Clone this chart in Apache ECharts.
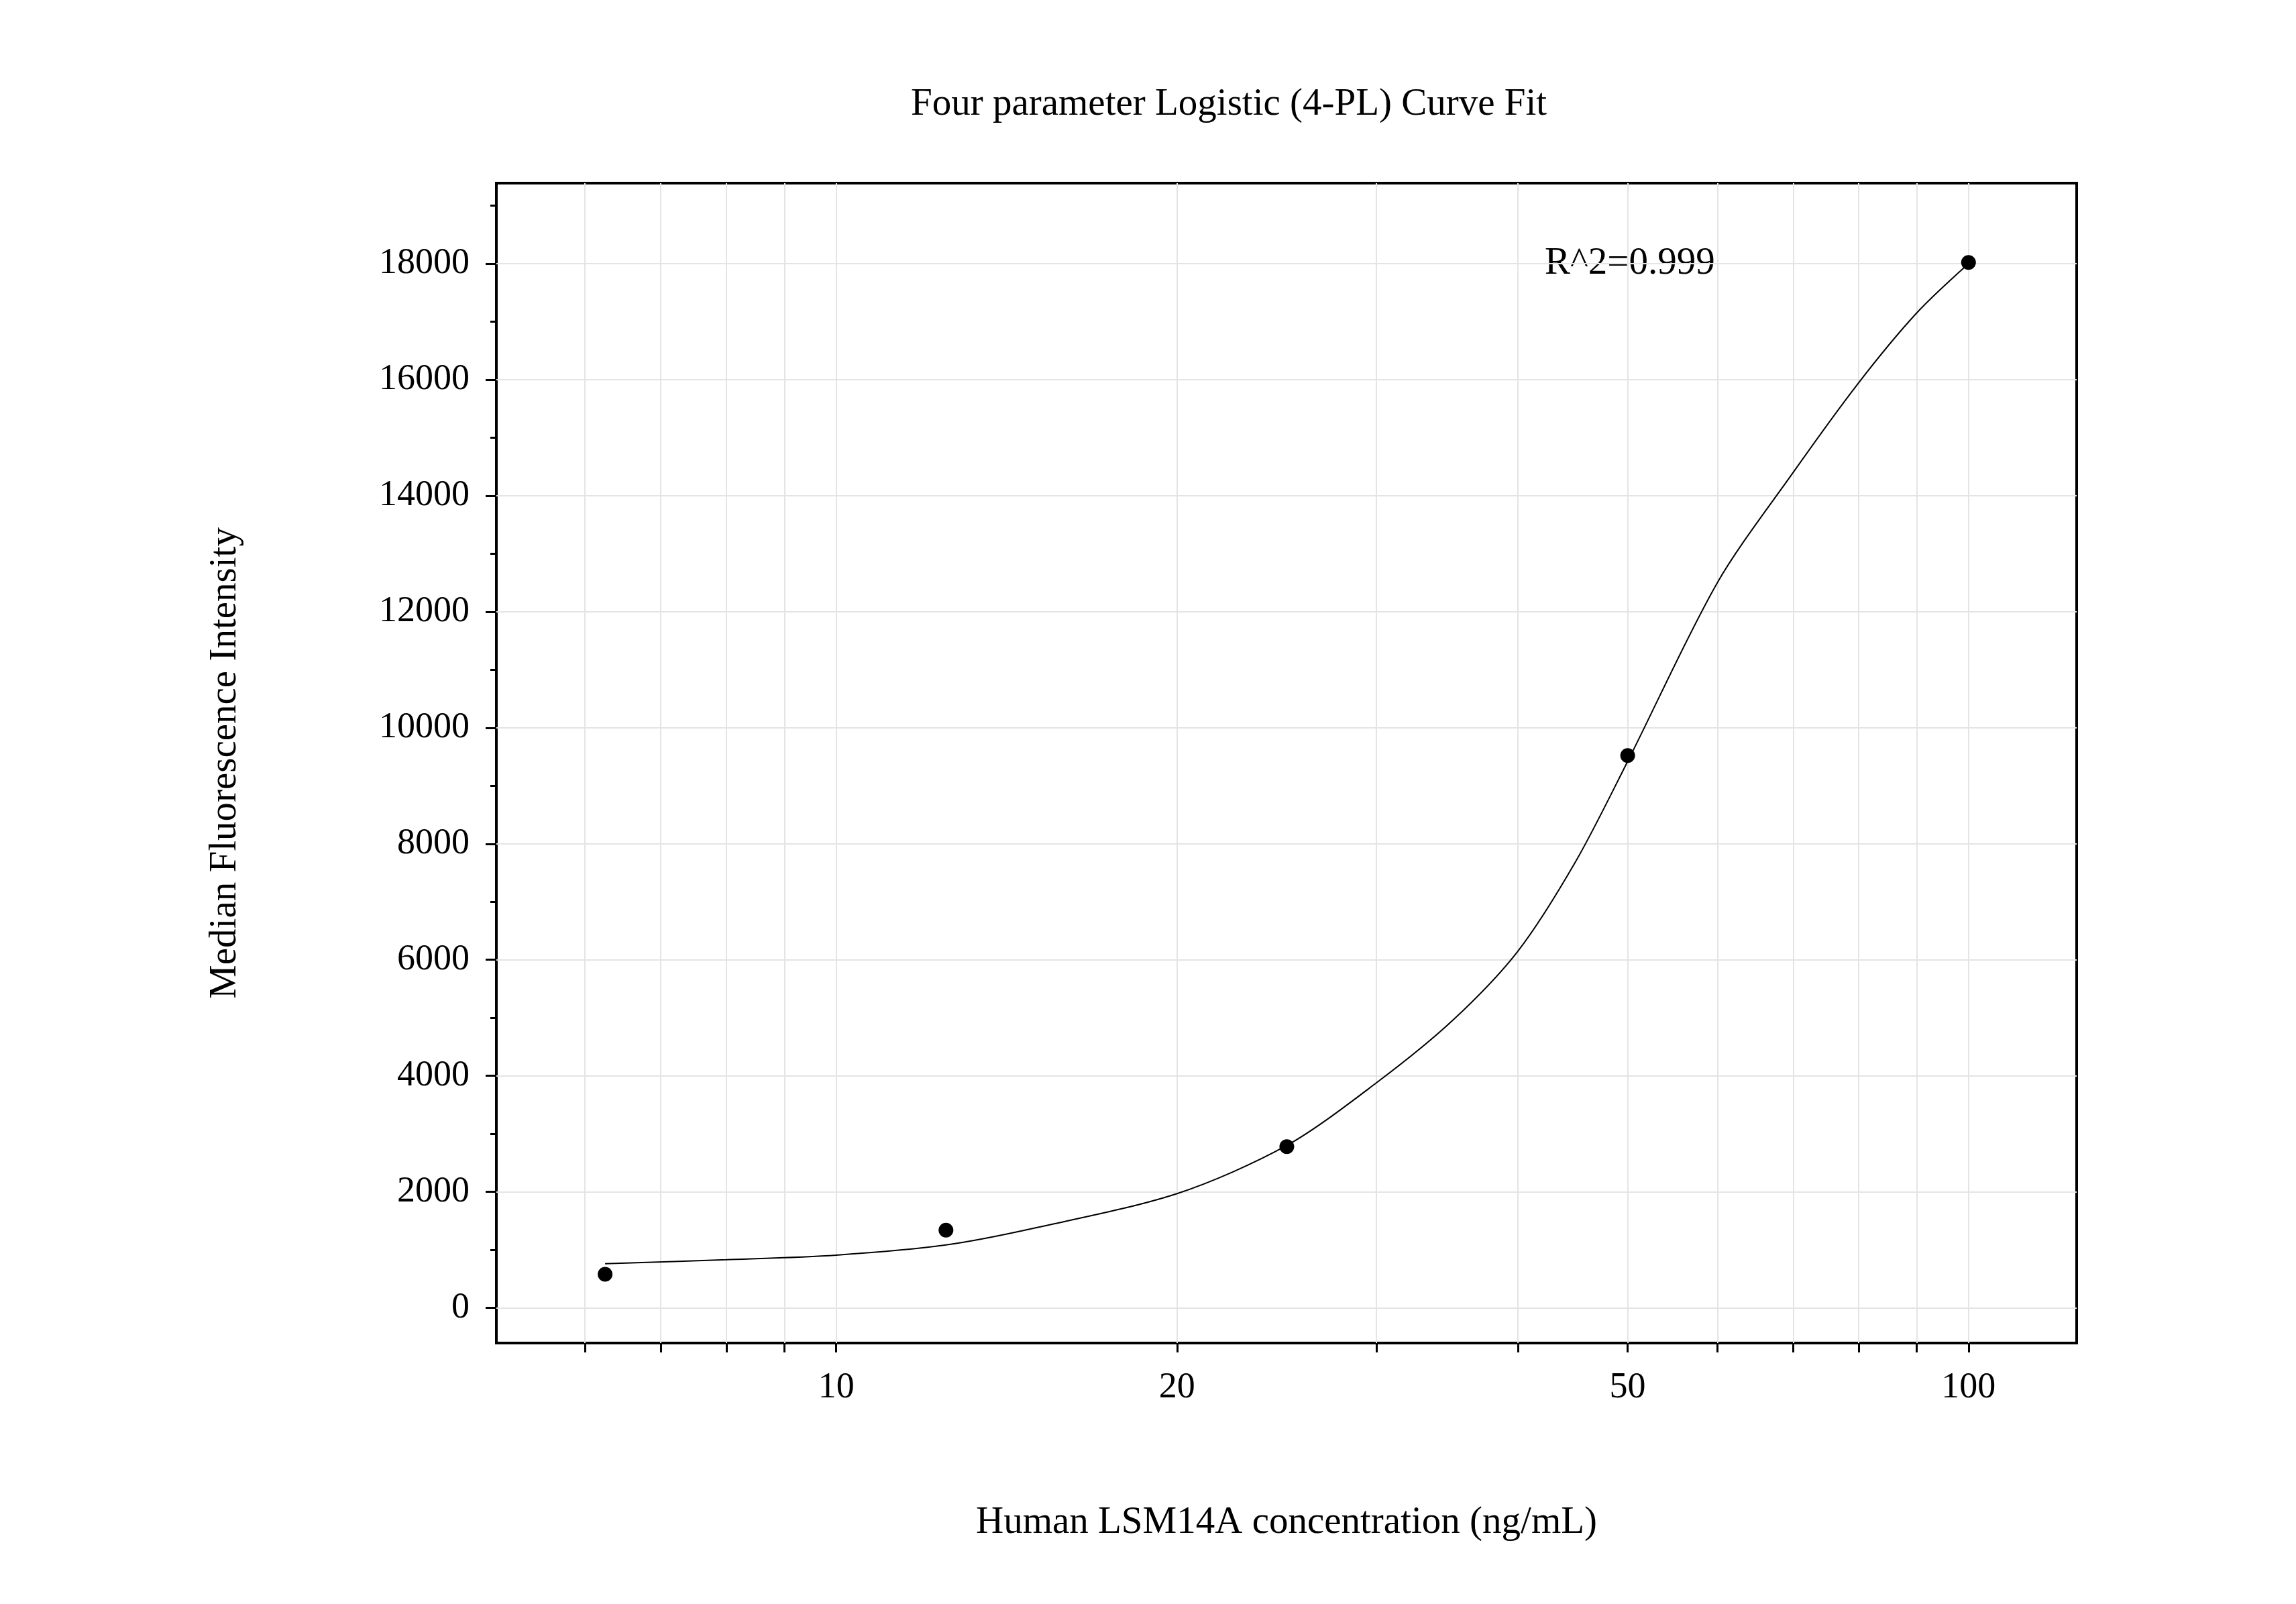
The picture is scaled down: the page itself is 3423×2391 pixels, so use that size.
<!DOCTYPE html>
<html>
<head>
<meta charset="utf-8">
<script src="https://cdn.jsdelivr.net/npm/echarts@6/dist/echarts.min.js"></script>
<style>html,body{margin:0;background:#fff}#main{width:3423px;height:2391px}</style>
</head>
<body>
<div id="main"></div>
<script>
// measured standards
var conc = [6.25, 12.5, 25, 50, 100];
var mfi = [580, 1340, 2780, 9520, 18020];
// fitted curve
var curveX = [6.25, 8, 10, 12.5, 15, 20, 25, 30, 35, 40, 45, 50, 60, 70, 80, 90, 100];
var curveY = [760, 830, 910, 1085, 1380, 1970, 2800, 3880, 4950, 6150, 7700, 9420, 12500, 14400, 15950, 17150, 18000];
var xLabels = [10, 20, 50, 100];
var xTicks = [6, 7, 8, 9, 10, 20, 30, 40, 50, 60, 70, 80, 90, 100];
var yLabels = [0, 2000, 4000, 6000, 8000, 10000, 12000, 14000, 16000, 18000];
var yMinor = [1000, 3000, 5000, 7000, 9000, 11000, 13000, 15000, 17000, 19000];

var font = 'Liberation Serif';
var grid = {left: 740, right: 327, top: 273, bottom: 389, show: true, borderColor: '#000', borderWidth: 4, backgroundColor: 'transparent'};
var xBase = {type: 'log', min: 5.01, max: 124.6, gridIndex: 0};
var yBase = {type: 'value', min: -606, max: 19388, gridIndex: 0};

var option = {
  backgroundColor: '#fff',
  grid: grid,
  xAxis: [
    Object.assign({}, xBase, {
      name: 'Human LSM14A concentration (ng/mL)', nameLocation: 'middle', nameGap: 240,
      nameTextStyle: {fontFamily: font, fontSize: 57, color: '#000'},
      axisLine: {show: false, onZero: false},
      axisTick: {show: true, length: 14, customValues: xTicks, lineStyle: {color: '#000', width: 3}},
      axisLabel: {customValues: xLabels, fontFamily: font, fontSize: 54, color: '#000', margin: 40,
        formatter: function (v) { return String(v); }},
      splitLine: {show: true, lineStyle: {color: '#e4e4e4', width: 2}}
    })
  ],
  yAxis: [
    Object.assign({}, yBase, {
      name: 'Median Fluorescence Intensity', nameLocation: 'middle', nameGap: 375,
      nameTextStyle: {fontFamily: font, fontSize: 57, color: '#000'},
      axisLine: {show: false, onZero: false},
      axisTick: {show: true, length: 16, customValues: yLabels, lineStyle: {color: '#000', width: 3}},
      axisLabel: {customValues: yLabels, fontFamily: font, fontSize: 54, color: '#000', margin: 40,
        formatter: function (v) { return String(v); }},
      splitLine: {show: true, lineStyle: {color: '#e4e4e4', width: 2}}
    }),
    Object.assign({}, yBase, {
      position: 'left',
      axisLine: {show: false, onZero: false},
      axisTick: {show: true, length: 9, customValues: yMinor, lineStyle: {color: '#000', width: 3}},
      axisLabel: {show: false},
      splitLine: {show: false}
    })
  ],
  graphic: [
    {type: 'text', left: 1918 - 560, top: 128, style: {text: 'Four parameter Logistic (4-PL) Curve Fit',
      font: '57px "Liberation Serif"', fill: '#000'}},
    {type: 'text', left: 2303, top: 365, style: {text: 'R^2=0.999', font: '57px "Liberation Serif"', fill: '#000'}}
  ],
  series: [
    {type: 'line', name: 'fit', data: curveX.map(function (x, i) { return [x, curveY[i]]; }),
     smooth: 0.3, showSymbol: false, lineStyle: {color: '#000', width: 2}, z: 2},
    {type: 'scatter', name: 'std', data: conc.map(function (x, i) { return [x, mfi[i]]; }),
     symbolSize: 22, itemStyle: {color: '#000', opacity: 1}, z: 3}
  ]
};
echarts.init(document.getElementById('main')).setOption(option);
</script>
</body>
</html>
